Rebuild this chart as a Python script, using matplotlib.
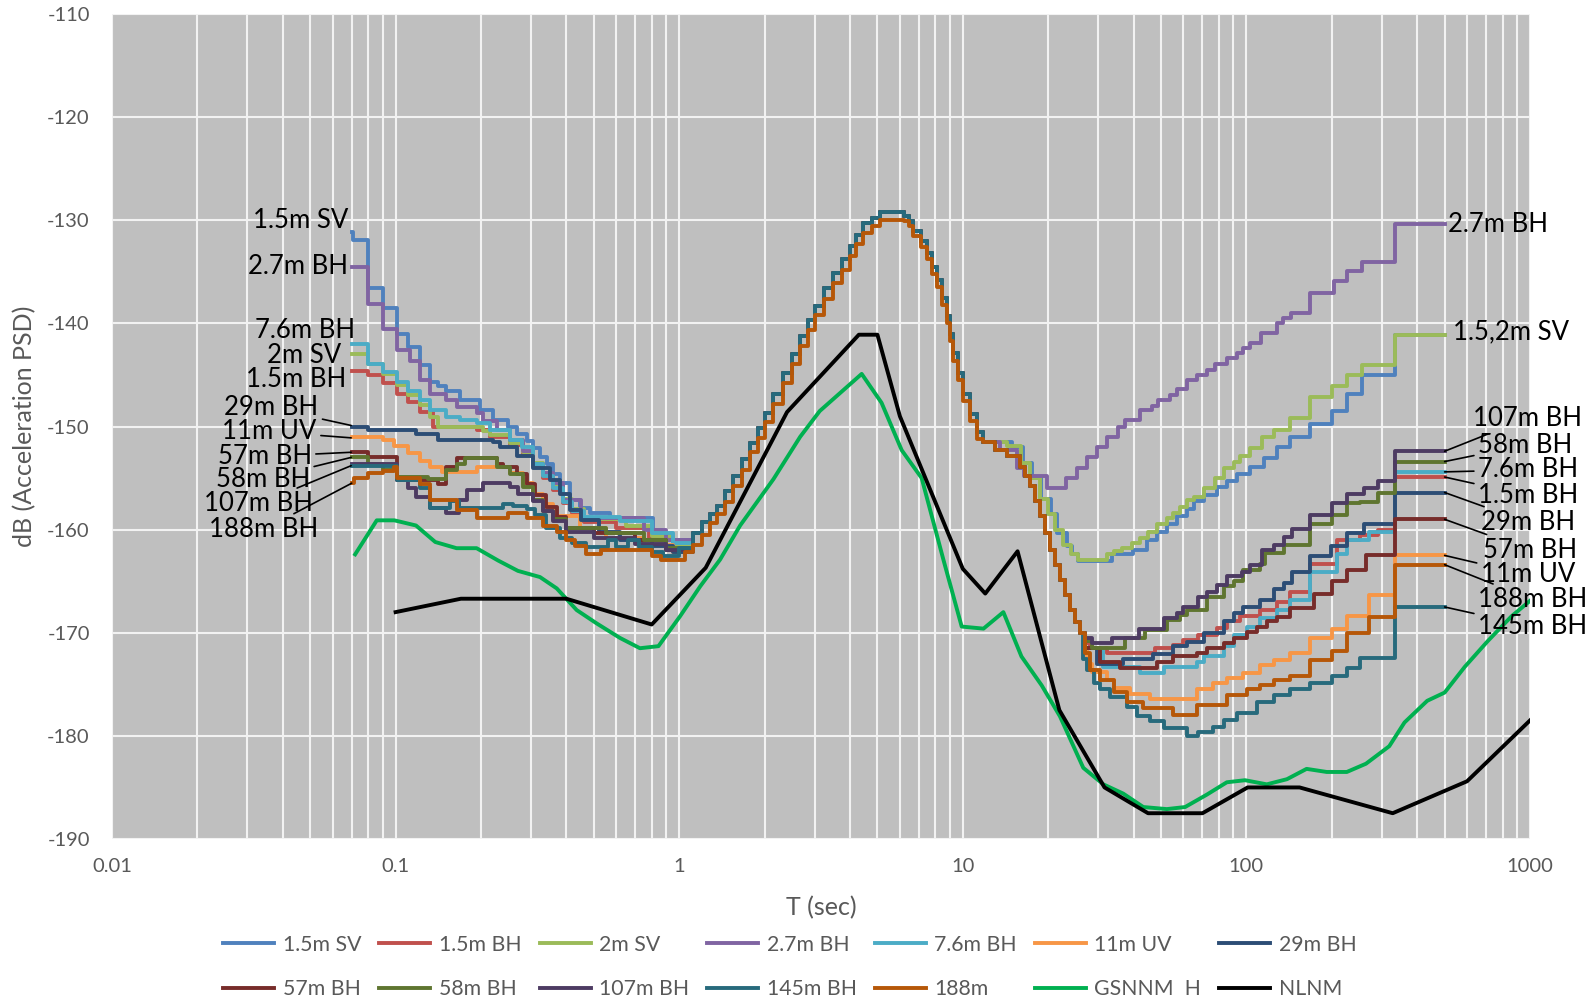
import numpy as np
import matplotlib
matplotlib.use('Agg')
import matplotlib.pyplot as plt
from matplotlib.ticker import LogLocator, NullFormatter

plt.rcParams['font.family'] = ['Lato', 'DejaVu Sans']
plt.rcParams['axes.unicode_minus'] = False

# ---- values: (period s, dB) ----
# left tails (0.07 - 1 s)
sv15_left = [(0.070, -131.1), (0.0705, -131.9), (0.080, -136.6), (0.090, -138.5), (0.101, -141.0),
             (0.111, -142.3), (0.122, -144.0), (0.132, -145.7), (0.1415, -146.1), (0.151, -146.6),
             (0.169, -147.4), (0.198, -148.4), (0.221, -149.4), (0.250, -150.0), (0.267, -150.7),
             (0.290, -151.4), (0.306, -152.1), (0.323, -153.0), (0.341, -153.6), (0.360, -154.6),
             (0.380, -155.5), (0.412, -157.1), (0.447, -157.9), (0.485, -158.4), (0.570, -158.9),
             (0.810, -160.0), (0.867, -161.0)]
bh15_left = [(0.070, -144.6), (0.080, -145.0), (0.090, -145.8), (0.101, -146.8), (0.111, -147.6),
             (0.122, -148.6), (0.135, -150.0), (0.193, -150.3), (0.215, -151.0), (0.253, -151.8),
             (0.282, -152.7), (0.306, -153.8), (0.332, -155.0), (0.360, -156.2), (0.390, -157.4),
             (0.420, -158.4), (0.460, -159.3), (0.600, -159.8), (0.780, -160.8), (0.950, -161.8)]
sv2_left = [(0.070, -143.0), (0.080, -143.9), (0.090, -144.9), (0.101, -146.0), (0.111, -146.9),
            (0.122, -147.9), (0.132, -149.1), (0.1415, -150.0), (0.204, -150.4), (0.215, -150.8),
            (0.253, -151.6), (0.282, -152.5), (0.306, -153.5), (0.332, -154.6), (0.360, -155.8),
            (0.390, -157.0), (0.420, -158.0), (0.460, -159.0), (0.650, -159.6), (0.800, -160.6),
            (0.950, -161.6)]
bh27_left = [(0.070, -134.5), (0.080, -138.1), (0.090, -140.5), (0.101, -142.6), (0.112, -143.6),
             (0.122, -145.5), (0.132, -146.8), (0.151, -147.4), (0.164, -148.1), (0.193, -148.7),
             (0.204, -149.5), (0.227, -150.3), (0.253, -151.3), (0.282, -152.4), (0.306, -153.6),
             (0.332, -154.5), (0.360, -155.5), (0.390, -157.1), (0.450, -158.9), (0.750, -160.0),
             (0.900, -161.0)]
bh76_left = [(0.070, -142.0), (0.080, -143.9), (0.090, -144.7), (0.101, -145.7), (0.111, -146.6),
             (0.122, -147.4), (0.132, -148.4), (0.151, -149.1), (0.169, -149.4), (0.193, -149.7),
             (0.215, -150.3), (0.253, -151.3), (0.280, -152.0), (0.306, -153.6), (0.330, -154.8),
             (0.360, -156.0), (0.390, -157.3), (0.420, -158.2), (0.460, -158.8), (0.620, -159.2),
             (0.800, -160.3), (0.950, -161.3)]
uv11_left = [(0.070, -151.0), (0.090, -151.3), (0.0985, -151.9), (0.111, -152.6), (0.122, -153.3),
             (0.132, -153.9), (0.146, -154.4), (0.193, -153.9), (0.253, -154.5), (0.282, -155.5),
             (0.306, -156.5), (0.330, -157.5), (0.360, -158.7), (0.447, -159.8), (0.550, -160.8),
             (0.750, -161.5), (0.950, -162.2)]
bh29_left = [(0.070, -150.0), (0.080, -150.3), (0.118, -150.7), (0.1415, -151.3), (0.221, -151.5),
             (0.233, -152.0), (0.267, -152.9), (0.306, -154.0), (0.350, -155.2), (0.380, -156.5),
             (0.412, -158.1), (0.450, -159.1), (0.520, -160.2), (0.620, -161.0), (0.800, -161.6),
             (0.950, -162.2)]
bh57_left = [(0.070, -152.5), (0.080, -153.0), (0.101, -155.2), (0.141, -155.6), (0.151, -153.9),
             (0.164, -153.1), (0.227, -153.6), (0.240, -153.9), (0.267, -154.6), (0.290, -155.6),
             (0.310, -156.6), (0.340, -157.8), (0.370, -158.8), (0.400, -159.8), (0.500, -160.3),
             (0.700, -161.0), (0.900, -162.0)]
bh58_left = [(0.070, -153.0), (0.080, -153.6), (0.090, -154.2), (0.101, -154.9), (0.130, -155.1),
             (0.151, -154.2), (0.164, -153.6), (0.175, -153.1), (0.227, -153.9), (0.253, -154.6),
             (0.282, -155.9), (0.306, -157.1), (0.330, -158.2), (0.360, -159.0), (0.400, -159.8),
             (0.550, -160.3), (0.750, -161.0), (0.900, -161.8)]
bh107_left = [(0.070, -153.6), (0.101, -155.2), (0.111, -156.0), (0.118, -156.8), (0.132, -157.9),
              (0.151, -158.4), (0.168, -157.1), (0.178, -156.2), (0.204, -155.5), (0.253, -155.9),
              (0.270, -156.5), (0.306, -157.2), (0.330, -158.2), (0.360, -159.2), (0.400, -160.2),
              (0.500, -160.8), (0.700, -161.4), (0.900, -162.0)]
bh145_left = [(0.070, -153.8), (0.101, -155.2), (0.122, -156.0), (0.132, -157.9), (0.156, -157.2),
              (0.168, -157.9), (0.240, -157.5), (0.260, -157.7), (0.290, -158.0), (0.310, -158.6),
              (0.340, -159.8), (0.380, -160.8), (0.420, -161.3), (0.470, -161.7), (0.560, -161.0),
              (0.600, -161.7), (0.660, -161.0), (0.720, -161.7), (0.800, -162.2), (0.880, -162.6),
              (1.000, -161.8)]
m188_left = [(0.070, -155.5), (0.0715, -155.0), (0.080, -154.5), (0.090, -154.3), (0.099, -153.9),
             (0.101, -155.0), (0.122, -155.6), (0.132, -157.1), (0.164, -158.1), (0.193, -158.9),
             (0.250, -158.4), (0.290, -158.9), (0.330, -159.6), (0.370, -160.2), (0.400, -161.0),
             (0.430, -161.6), (0.470, -162.4), (0.530, -162.0), (0.800, -162.6), (0.860, -162.9),
             (1.050, -162.2)]

# common micro-seism hump (1.1 - 11 s)
hump_t = [1.12, 1.20, 1.28, 1.36, 1.45, 1.55, 1.66, 1.78, 1.89, 2.00,
          2.15, 2.33, 2.50, 2.67, 2.85, 3.00, 3.25, 3.49, 3.75, 4.00,
          4.20, 4.46, 4.80, 5.10, 6.20, 6.45, 6.69, 7.10, 7.46, 7.80,
          8.09, 8.45, 8.77, 9.00, 9.26, 9.65, 10.05, 10.6, 11.2]
hump_db = [-160.3, -159.3, -158.5, -157.7, -156.3, -154.8, -153.2, -151.6, -150.1, -148.7,
           -146.8, -144.8, -143.0, -141.2, -139.7, -138.3, -136.6, -135.1, -133.8, -132.5,
           -131.4, -130.3, -129.8, -129.2, -129.6, -130.1, -131.0, -132.0, -133.2, -134.5,
           -135.8, -137.5, -139.3, -141.0, -142.9, -144.8, -146.8, -148.8, -150.5]
hump188_db = [-161.5, -160.5, -159.4, -158.5, -157.3, -155.8, -154.2, -152.5, -151.1, -149.6,
              -147.8, -145.8, -143.9, -142.2, -140.6, -139.2, -137.6, -136.1, -134.8, -133.5,
              -132.3, -131.2, -130.6, -130.0, -130.1, -130.6, -131.5, -132.6, -133.8, -135.2,
              -136.5, -138.2, -140.0, -141.7, -143.6, -145.5, -147.5, -149.5, -151.2]

# fall shared by the deeper sensors (12 - 26 s)
low_fall = [(11.8, -151.5), (13.0, -152.3), (14.3, -152.9), (15.9, -153.9), (16.6, -154.8),
            (17.3, -155.8), (18.0, -157.2), (18.7, -158.7), (19.5, -160.3), (20.3, -162.0),
            (21.1, -163.4), (22.0, -164.9), (22.9, -166.3), (23.9, -167.8), (24.9, -169.0),
            (25.9, -170.0)]

# right tails (to 500 s)
sv15_right = [(11.8, -151.5), (14.9, -152.0), (16.3, -153.5), (17.6, -155.0), (18.9, -157.0),
              (20.4, -158.5), (21.4, -160.3), (23.3, -161.6), (24.2, -162.4), (25.5, -163.0),
              (33.5, -162.4), (39.9, -162.0), (44.5, -161.0), (48.3, -160.2), (52.4, -159.5),
              (56.8, -158.7), (61.7, -158.0), (65.1, -157.2), (70.6, -156.6), (78.7, -155.9),
              (85.3, -155.3), (92.6, -154.6), (103, -153.9), (115, -153.1), (128, -152.0),
              (143, -151.0), (168, -149.8), (200, -148.5), (226, -146.8), (255, -145.0),
              (334, -141.1), (500, -141.1)]
sv2_right = [(11.8, -151.5), (14.3, -151.9), (16.1, -153.5), (17.3, -155.0), (18.7, -157.0),
             (20.0, -158.5), (21.2, -160.0), (22.6, -161.5), (24.0, -162.4), (25.5, -162.9),
             (32.2, -162.4), (34.0, -162.1), (36.3, -161.8), (39.4, -161.3), (42.2, -160.8),
             (45.1, -160.2), (48.3, -159.5), (52.4, -158.9), (55.3, -158.4), (58.4, -157.8),
             (61.7, -157.1), (65.1, -156.8), (70.6, -156.0), (77.6, -155.0), (83.1, -154.0),
             (90.1, -153.4), (95.1, -152.9), (103, -152.1), (113.5, -151.0), (125, -150.3),
             (143, -149.2), (168, -147.1), (200, -146.1), (226, -145.0), (255, -144.0),
             (334, -141.1), (500, -141.1)]
bh27_right = [(11.8, -151.5), (13.5, -152.3), (15.5, -154.0), (16.5, -154.8), (19.8, -156.0),
              (23.2, -155.0), (25.2, -154.0), (27.4, -153.0), (29.7, -152.0), (32.2, -151.0),
              (35.3, -150.0), (37.3, -149.4), (42.1, -148.4), (46.3, -148.0), (48.9, -147.4),
              (53.7, -146.9), (56.7, -146.4), (61.5, -145.5), (66.7, -145.0), (72.4, -144.5),
              (77.4, -143.9), (85.1, -143.4), (92.4, -142.9), (97.5, -142.4), (103, -141.9),
              (113, -140.9), (128, -140.0), (135, -139.5), (144, -139.0), (168, -137.1),
              (203, -135.9), (226, -134.9), (255, -134.0), (334, -130.4), (500, -130.4)]
bh107_right = [(26.9, -170.5), (28.5, -171.0), (33.5, -170.5), (41.7, -169.6), (51.1, -168.6),
               (56.8, -168.1), (60.0, -167.5), (67.7, -166.5), (72.5, -166.0), (78.7, -165.4),
               (85.3, -164.5), (96.3, -164.1), (103, -163.4), (113.5, -162.0), (125, -161.5),
               (135.3, -160.7), (144.9, -159.9), (168, -158.6), (200.6, -157.4), (226, -156.5),
               (260, -156.0), (290, -155.3), (333, -152.4), (500, -152.4)]
bh58_right = [(26.9, -170.8), (28.5, -171.5), (37.3, -170.5), (44.0, -169.7), (52.4, -168.8),
              (58.4, -168.3), (61.7, -167.8), (72.5, -166.5), (83.1, -165.5), (90.1, -165.0),
              (97.5, -163.9), (111.9, -163.3), (116.7, -162.3), (135.3, -161.5), (168, -159.5),
              (200.6, -158.6), (226, -157.4), (252, -157.3), (290, -156.4), (333, -153.4),
              (500, -153.4)]
bh15_right = [(26.9, -171.0), (28.1, -171.5), (32.2, -172.0), (47.6, -171.5), (55.3, -171.2),
              (60.0, -170.7), (67.7, -170.2), (78.7, -169.5), (85.3, -168.9), (95.1, -168.4),
              (111.9, -167.8), (128, -167.0), (143, -166.0), (168, -163.3), (209, -161.0),
              (252, -160.5), (290, -160.0), (333, -154.9), (500, -154.9)]
bh29_right = [(26.9, -171.5), (29.7, -173.0), (36.8, -172.5), (47.0, -172.1), (55.3, -171.3),
              (61.7, -170.9), (70.6, -170.0), (83.1, -168.9), (90.1, -168.1), (97.5, -167.5),
              (111.9, -166.8), (125, -165.8), (135.3, -165.2), (144.9, -164.1), (168, -162.6),
              (198, -161.6), (226, -160.3), (260, -159.5), (333, -156.4), (500, -156.4)]
bh57_right = [(26.9, -171.5), (30.5, -172.8), (35.9, -173.4), (48.3, -172.8), (55.3, -172.3),
              (66.8, -172.0), (72.5, -171.5), (83.1, -171.0), (90.1, -170.5), (100.2, -169.9),
              (108.8, -169.4), (118, -168.9), (128, -168.5), (143, -167.6), (172.6, -166.2),
              (200.6, -165.0), (226, -163.9), (265, -162.5), (333, -159.0), (500, -159.0)]
bh76_right = [(26.9, -171.5), (31.3, -173.3), (42.2, -173.9), (51.1, -173.3), (66.8, -172.8),
              (70.6, -172.3), (83.1, -171.3), (90.1, -170.2), (100.2, -169.4), (111.9, -168.6),
              (128, -167.8), (143, -166.8), (168, -164.1), (209, -162.4), (226, -161.0),
              (270, -160.2), (333, -154.4), (500, -154.4)]
uv11_right = [(26.9, -171.5), (27.4, -173.0), (28.5, -173.8), (32.2, -174.6), (34.0, -175.4),
              (38.9, -175.9), (45.7, -176.4), (66.8, -175.5), (76.5, -174.9), (85.3, -174.4),
              (97.5, -173.9), (111.9, -173.1), (125, -172.6), (143, -172.0), (168, -170.5),
              (200.6, -169.6), (226, -168.4), (270, -166.3), (333, -162.5), (500, -162.5)]
m188_right = [(26.9, -172.0), (28.1, -173.6), (30.5, -174.6), (34.0, -175.7), (37.8, -176.7),
              (43.3, -177.3), (55.3, -178.0), (66.8, -177.0), (85.3, -176.0), (100.2, -175.5),
              (111.9, -175.1), (125, -174.6), (143, -174.2), (168, -172.6), (200.6, -171.8),
              (226, -170.0), (270, -168.5), (333, -163.4), (500, -163.4)]
bh145_right = [(26.6, -172.5), (27.4, -173.6), (28.9, -174.9), (30.5, -175.5), (33.0, -176.2),
               (37.8, -177.2), (41.1, -178.1), (45.7, -178.6), (51.1, -179.2), (61.7, -180.0),
               (67.7, -179.6), (76.5, -179.1), (83.1, -178.5), (92.6, -177.8), (108.8, -176.7),
               (125, -176.0), (143, -175.5), (168, -174.9), (200.6, -174.2), (226, -173.4),
               (252, -172.4), (333, -167.5), (500, -167.5)]

gsnnm_t = [0.072, 0.0858, 0.099, 0.118, 0.138, 0.164, 0.193, 0.23, 0.27, 0.323, 0.370, 0.435,
           0.512, 0.618, 0.727, 0.845, 1.007, 1.186, 1.394, 1.64, 2.15, 2.67, 3.13, 4.40, 5.17,
           6.09, 7.16, 8.54, 9.91, 11.83, 13.9, 16.1, 18.97, 22.0, 26.6, 31.3, 36.8, 43.3, 52.4,
           60.8, 72.5, 85.3, 98.9, 118, 139, 163, 192, 226, 264, 319, 361, 434, 500, 589, 710,
           861, 1000]
gsnnm_db = [-162.4, -159.1, -159.1, -159.6, -161.2, -161.8, -161.8, -163.0, -164.0, -164.6,
            -165.7, -167.8, -169.1, -170.5, -171.5, -171.3, -168.4, -165.5, -162.9, -159.6,
            -155.1, -151.0, -148.5, -144.9, -147.7, -152.3, -155.0, -162.9, -169.4, -169.6,
            -168.0, -172.3, -175.1, -178.1, -183.1, -184.7, -185.6, -186.9, -187.1, -186.9,
            -185.7, -184.5, -184.3, -184.7, -184.2, -183.2, -183.5, -183.5, -182.7, -181.0,
            -178.7, -176.6, -175.8, -173.3, -170.8, -168.4, -166.9]

nlnm_t = [0.1, 0.17, 0.4, 0.8, 1.24, 2.4, 4.3, 5.0, 6.0, 10.0, 12.0, 15.6, 21.9, 31.6,
          45, 70, 101, 154, 328, 600, 1000]
nlnm_db = [-168.0, -166.7, -166.7, -169.2, -163.7, -148.6, -141.1, -141.1, -149.0, -163.8,
           -166.2, -162.1, -177.5, -185.0, -187.5, -187.5, -185.0, -185.0, -187.5, -184.4, -178.5]

hump = list(zip(hump_t, hump_db))
hump188 = list(zip(hump_t, hump188_db))


def join(*parts):
    pts = [p for part in parts for p in part]
    t, db = zip(*pts)
    return np.array(t), np.array(db)


series = [
    ('1.5m SV', '#4F81BD', join(sv15_left, hump, sv15_right)),
    ('1.5m BH', '#C0504D', join(bh15_left, hump, low_fall, bh15_right)),
    ('2m SV', '#9BBB59', join(sv2_left, hump, sv2_right)),
    ('2.7m BH', '#8064A2', join(bh27_left, hump, bh27_right)),
    ('7.6m BH', '#4BACC6', join(bh76_left, hump, low_fall, bh76_right)),
    ('11m UV', '#F79646', join(uv11_left, hump, low_fall, uv11_right)),
    ('29m BH', '#2C4D75', join(bh29_left, hump, low_fall, bh29_right)),
    ('57m BH', '#772C2A', join(bh57_left, hump, low_fall, bh57_right)),
    ('58m BH', '#5F7530', join(bh58_left, hump, low_fall, bh58_right)),
    ('107m BH', '#4D3B62', join(bh107_left, hump, low_fall, bh107_right)),
    ('145m BH', '#276A7C', join(bh145_left, hump, low_fall, bh145_right)),
    ('188m', '#B65708', join(m188_left, hump188, low_fall, m188_right)),
]

# text labels at the curve ends: (text, text position, line end it points to)
left_labels = [
    ('1.5m SV', (0.0681, -130.0), None),
    ('2.7m BH', (0.0681, -134.5), None),
    ('7.6m BH', (0.0719, -140.7), None),
    ('2m SV', (0.0645, -143.1), None),
    ('1.5m BH', (0.0672, -145.4), None),
    ('29m BH', (0.0534, -148.2), (0.0697, -149.9)),
    ('11m UV', (0.0527, -150.5), (0.0697, -151.1)),
    ('57m BH', (0.0506, -152.9), (0.0697, -152.5)),
    ('58m BH', (0.0499, -155.1), (0.0697, -153.0)),
    ('107m BH', (0.0513, -157.5), (0.0697, -153.8)),
    ('188m BH', (0.0534, -160.0), (0.0700, -155.5)),
]
right_labels = [
    ('2.7m BH', (515, -130.4), None),
    ('1.5,2m SV', (535, -140.8), None),
    ('107m BH', (630, -149.2), (500, -152.4)),
    ('58m BH', (656, -151.8), (500, -153.4)),
    ('7.6m BH', (656, -154.2), (500, -154.4)),
    ('1.5m BH', (656, -156.7), (500, -154.9)),
    ('29m BH', (671, -159.3), (500, -156.4)),
    ('57m BH', (683, -162.0), (500, -159.0)),
    ('11m UV', (671, -164.4), (500, -162.5)),
    ('188m BH', (656, -166.8), (500, -163.4)),
    ('145m BH', (656, -169.4), (500, -167.5)),
]

grey = '#595959'
fig = plt.figure(figsize=(15.96, 10), dpi=100)
ax = fig.add_axes([112 / 1596, 161 / 1000, 1418 / 1596, 825 / 1000])
ax.set_facecolor('#BFBFBF')
ax.set_xscale('log')
ax.set_xlim(0.01, 1000)
ax.set_ylim(-190, -110)

handles = []
for name, col, (t, db) in series:
    h, = ax.plot(t, db, drawstyle='steps-post', color=col, lw=2.8, label=name)
    handles.append(h)
h, = ax.plot(gsnnm_t, gsnnm_db, color='#00B050', lw=2.8, label='GSNNM  H')
handles.append(h)
h, = ax.plot(nlnm_t, nlnm_db, color='black', lw=2.8, label='NLNM')
handles.append(h)

for txt, pos, pt in left_labels:
    if pt is None:
        ax.text(pos[0], pos[1], txt, ha='right', va='center', fontsize=18.5, clip_on=False)
    else:
        ax.annotate(txt, xy=pt, xytext=pos, ha='right', va='center', fontsize=18.5,
                    annotation_clip=False,
                    arrowprops=dict(arrowstyle='-', color='black', lw=1.2, shrinkA=1, shrinkB=0))
for txt, pos, pt in right_labels:
    if pt is None:
        ax.text(pos[0], pos[1], txt, ha='left', va='center', fontsize=18.5, clip_on=False)
    else:
        ax.annotate(txt, xy=pt, xytext=pos, ha='left', va='center', fontsize=18.5,
                    annotation_clip=False,
                    arrowprops=dict(arrowstyle='-', color='black', lw=1.2, shrinkA=1, shrinkB=0))

# axes styling
ax.set_xticks([0.01, 0.1, 1, 10, 100, 1000])
ax.set_xticklabels(['0.01', '0.1', '1', '10', '100', '1000'])
ax.xaxis.set_minor_locator(LogLocator(base=10, subs=np.arange(2, 10), numticks=20))
ax.xaxis.set_minor_formatter(NullFormatter())
ax.set_yticks(np.arange(-190, -109, 10))
ax.set_yticklabels([str(v) for v in range(-190, -109, 10)])
ax.tick_params(axis='both', which='both', length=0, labelsize=14.5, labelcolor=grey)
ax.tick_params(axis='x', pad=14)
ax.tick_params(axis='y', pad=16)
ax.grid(which='major', axis='both', color='#F2F2F2', lw=1.5)
ax.grid(which='minor', axis='x', color='#F2F2F2', lw=1.5)
ax.set_axisbelow(True)
for s in ax.spines.values():
    s.set_visible(False)

ax.set_xlabel('T (sec)', fontsize=18, color=grey)
ax.xaxis.label.set_va('center')
ax.xaxis.set_label_coords(0.5, -(908 - 839) / 825)
ax.set_ylabel('dB (Acceleration PSD)', fontsize=18, color=grey)
ax.yaxis.label.set_va('center')
ax.yaxis.set_label_coords((25 - 112) / 1418, 0.5)

order = [0, 7, 1, 8, 2, 9, 3, 10, 4, 11, 5, 12, 6, 13]
leg = fig.legend([handles[i] for i in order], [handles[i].get_label() for i in order],
                 ncol=7, loc='center', bbox_to_anchor=(790 / 1596, 1 - 967 / 1000),
                 frameon=False, fontsize=15.3, handlelength=2.4, handletextpad=0.4,
                 columnspacing=0.85, labelspacing=1.15)
for t in leg.get_texts():
    t.set_color(grey)

fig.savefig('out.png', dpi=100)
